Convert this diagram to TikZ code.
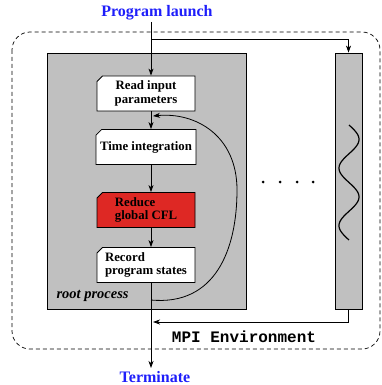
\documentclass[tikz,border=0pt]{standalone}
\usepackage{fontspec}
\setmainfont{Liberation Serif}
\setmonofont{Liberation Mono}
\usetikzlibrary{arrows.meta,shapes.misc}
\definecolor{flowblue}{RGB}{30,30,250}
\definecolor{procgray}{RGB}{192,192,192}
\definecolor{cflred}{RGB}{222,40,36}
\tikzset{
  arr/.style={-{Stealth[length=7pt,width=5pt,inset=2pt]}, line width=0.8pt},
  stepbox/.style={chamfered rectangle, chamfered rectangle corners=north west,
    chamfered rectangle xsep=3pt, chamfered rectangle ysep=2.5pt,
    draw, line width=0.8pt, fill=white, minimum width=98pt, minimum height=35pt,
    inner sep=1pt, font=\fontsize{12.8}{13.5}\selectfont\bfseries},
  proc/.style={draw, line width=0.8pt, fill=procgray, inner sep=0pt},
  title/.style={text=flowblue, inner sep=0pt, anchor=base, font=\fontsize{16}{19}\selectfont\bfseries},
}
\begin{document}
\begin{tikzpicture}[x=1pt,y=-1pt]
\useasboundingbox (0,0) rectangle (382,385);
% dashed MPI environment
\draw[dashed, line width=0.7pt, dash pattern=on 4pt off 3pt, rounded corners=18pt] (12,32) rectangle (380,349);
% process rectangles
\node[proc, minimum width=199pt, minimum height=256pt] (root) at (146.5,181) {};
\node[proc, minimum width=27pt, minimum height=256pt] (rbar) at (348.5,181) {};
\node[anchor=west, font=\fontsize{14.5}{16}\selectfont\bfseries\itshape] (rootlbl) at (53,296) {root process};
% step boxes
\node[stepbox, align=center] (read) at (146,93.5) {Read input\\parameters};
\node[stepbox] (time) at (146,147) {Time integration};
\node[stepbox, fill=cflred, align=left] (reduce) at (146,210) {Reduce\\global CFL};
\node[stepbox, align=left] (record) at (146,265) {Record\\program states};
% titles
\node[title] (launch) at (157,17) {Program launch};
\node[title] (term) at (155,382.5) {Terminate};
\node[font=\fontsize{16}{19}\selectfont\ttfamily\bfseries] (mpi) at (244,337) {MPI Environment};
% coordinates on main line
\coordinate (top) at (151,22);
\coordinate (branch) at (151,39);
\coordinate (bottom) at (151,368);
\coordinate (loopstart) at (151,300);
\coordinate (loopend) at (153,116);
\coordinate (mpiend) at (153,322);
% main flow
\draw[arr] (top) -- (read.north -| top);
\draw[arr] (read.south -| top) -- (time.north -| top);
\draw[arr] (time.south -| top) -- (reduce.north -| top);
\draw[arr] (reduce.south -| top) -- (record.north -| top);
\draw[arr] (record.south -| top) -- (bottom);
\draw[arr] (branch) -| (rbar.north);
\draw[arr] (rbar.south) |- (mpiend);
% loop back curve
\draw[arr] (loopstart) .. controls (215,306) and (237,250) .. (237,190)
  .. controls (237,135) and (195,112) .. (loopend);
% dots
\foreach \px in {263,280,297,313} \fill (\px,182) circle (1.5pt);
% wave
\draw[line width=1.2pt] plot[domain=0:115, samples=90, smooth] ({349+10*sin(6.26*\x)}, {125+\x});
\end{tikzpicture}
\end{document}
